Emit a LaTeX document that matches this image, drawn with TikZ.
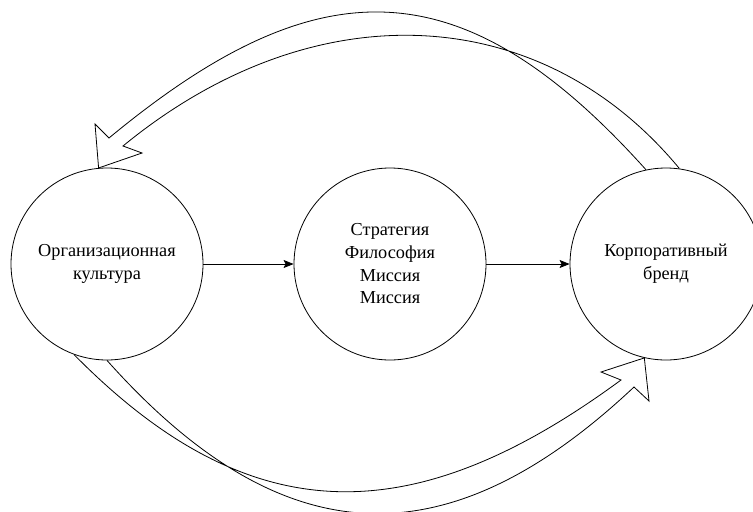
\documentclass[tikz,border=0pt]{standalone}
\usepackage{fontspec}
\setmainfont{Liberation Serif}
\usetikzlibrary{arrows.meta}

\tikzset{
	stage/.style={draw, circle, minimum size=144pt, inner sep=0pt, align=center, line width=0.6pt, font=\fontsize{13.7}{17}\selectfont},
	flow/.style={line width=0.6pt, -{Stealth[length=7.5pt, width=6pt, inset=1.5pt]}},
	band/.style={line width=0.6pt, line join=miter}
}

\begin{document}
\begin{tikzpicture}[x=0.75pt, y=-0.75pt]
		%%%%% START %%%%%
		\useasboundingbox (0, 0) rectangle (753, 511);
		
		\node[stage] (org) at (107, 264) {Организационная\\культура};
		\node[stage] (strat) at (390, 264) {Стратегия\\Философия\\Миссия\\Миссия};
		\node[stage] (brand) at (666, 264) {Корпоративный\\бренд};
		
		\draw[flow] (org) -- (strat);
		\draw[flow] (strat) -- (brand);
		
		\draw[band] (brand.102) .. controls (462, -35) and (318, -35) .. (109, 138) -- (95, 124) -- (org.95) -- (142, 153) -- (123, 146) .. controls (313, -10) and (540, 0) .. (brand.82);
		
		\draw[band] (org.250) .. controls (250, 533) and (413, 533) .. (621, 380) -- (601, 372) -- (brand.257) -- (649, 401) -- (634, 387) .. controls (450, 560) and (285, 560) .. (org.270);
		
		%%%%% END %%%%%
\end{tikzpicture}
\end{document}
